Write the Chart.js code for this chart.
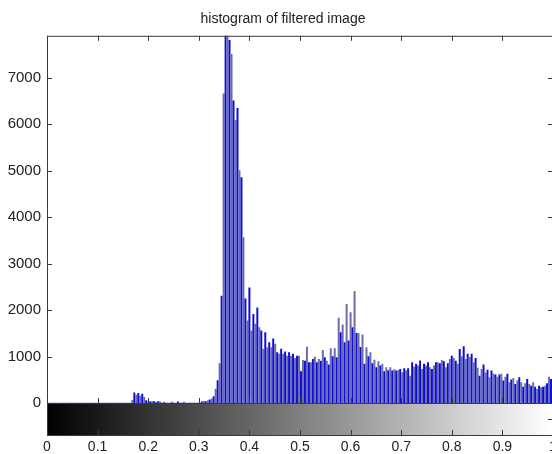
<!DOCTYPE html>
<html>
<head>
<meta charset="utf-8">
<script src="https://cdn.jsdelivr.net/npm/chart.js@4.4.1/dist/chart.umd.min.js"></script>
<style>
  html, body { margin: 0; padding: 0; background: #fff; overflow: hidden; }
  canvas { display: block; }
</style>
</head>
<body>
<canvas id="hist" width="566" height="454"></canvas>
<script>
// 256-bin histogram (imhist), counts per bin, bin k sits at k/255
let counts = [
  0,0,0,0,0,0,0,0,0,0, 0,0,0,0,0,0,0,0,0,0,
  0,0,0,0,0,0,0,0,0,0, 0,0,0,0,0,0,0,0,0,0,
  0,0,0,60,220,170,210,150,190,120, 50,30,25,35,30,20,30,25,0,20,
  0,0,0,20,0,0,25,0,0,20, 0,0,0,0,0,0,0,0,25,35,
  30,45,70,90,140,300,480,850,2300,6650, 8200,8000,7800,7500,6500,6080,6340,5000,4850,3560,
  2240,1770,2480,1550,1910,1700,2050,1620,1550,1160, 1515,1190,1300,1190,1380,1270,1085,1055,1160,1055,
  1100,1010,1085,1010,1050,960,1010,1010,675,920, 900,1205,870,870,940,990,870,940,900,1135,
  975,900,820,1170,1000,1170,975,1825,1515,1680, 1300,2125,1335,1945,1620,2400,1500,1500,1200,1465,
  835,1190,1000,1085,850,925,760,890,800,835, 675,760,700,760,690,720,690,700,725,655,
  740,700,740,580,870,780,835,800,905,725, 835,800,870,760,725,800,870,870,850,920,
  890,760,850,940,1010,960,900,835,1155,1000, 1215,940,1050,980,1050,870,960,750,580,725,
  820,650,710,545,690,620,605,560,605,620, 475,560,620,440,500,530,400,480,545,440,
  345,420,510,400,365,440,340,295,365,330, 345,365,420,560,510,450
]
let xTicks = [0, 0.1, 0.2, 0.3, 0.4, 0.5, 0.6, 0.7, 0.8, 0.9, 1]
let yTicks = [0, 1000, 2000, 3000, 4000, 5000, 6000, 7000]
let yMax = 7900

let points = counts.map((c, k) => ({ x: k / (counts.length - 1), y: c }))
let barColors = counts.map((c, k) => k % 2 ? '#6b6ba8' : '#0c0cdc')

let axisColor = '#3a3a3a'
let tickFont = { family: 'Liberation Sans, Arial, sans-serif', size: 14 }

// matlab style box, inward ticks and the gray colorbar under the axes
let matlabAxes = {
  id: 'matlabAxes',
  afterDraw(chart) {
    let c = chart.ctx
    let a = chart.chartArea
    let xs = chart.scales.x
    let ys = chart.scales.y
    let barTop = a.bottom
    let barBottom = a.bottom + 32
    c.save()

    let grad = c.createLinearGradient(xs.getPixelForValue(0), 0, xs.getPixelForValue(1), 0)
    grad.addColorStop(0, '#000000')
    grad.addColorStop(1, '#ffffff')
    c.fillStyle = grad
    c.fillRect(a.left, barTop, a.right - a.left, barBottom - barTop)

    c.strokeStyle = axisColor
    c.lineWidth = 1
    c.strokeRect(a.left + 0.5, a.top + 0.5, a.right - a.left, a.bottom - a.top)
    c.strokeRect(a.left + 0.5, barTop + 0.5, a.right - a.left, barBottom - barTop)

    c.beginPath()
    yTicks.forEach(v => {
      let y = Math.round(ys.getPixelForValue(v)) + 0.5
      c.moveTo(a.left, y); c.lineTo(a.left + 5, y)
      c.moveTo(a.right - 5, y); c.lineTo(a.right, y)
    })
    xTicks.forEach(v => {
      let x = Math.round(xs.getPixelForValue(v)) + 0.5
      c.moveTo(x, a.top); c.lineTo(x, a.top + 5)
      c.moveTo(x, a.bottom); c.lineTo(x, a.bottom - 5)
      c.moveTo(x, barBottom); c.lineTo(x, barBottom - 5)
    })
    let midBar = Math.round((barTop + barBottom) / 2) + 0.5
    c.moveTo(a.right - 5, midBar); c.lineTo(a.right, midBar)
    c.stroke()
    c.restore()
  }
}

new Chart(document.getElementById('hist'), {
  type: 'bar',
  data: {
    datasets: [{
      data: points,
      backgroundColor: barColors,
      borderWidth: 0,
      barThickness: 1.3
    }]
  },
  options: {
    responsive: false,
    animation: false,
    layout: { padding: 0 },
    plugins: {
      legend: { display: false },
      tooltip: { enabled: false },
      title: {
        display: true,
        text: 'histogram of filtered image',
        color: '#222',
        font: { family: 'Liberation Sans, Arial, sans-serif', size: 14, weight: 'normal' },
        padding: { top: 11, bottom: 8 }
      }
    },
    scales: {
      x: {
        type: 'linear',
        min: 0,
        max: 1,
        offset: false,
        // invisible tick marks push the labels below the colorbar
        grid: { display: true, drawOnChartArea: false, drawTicks: true, tickLength: 36, color: 'rgba(0,0,0,0)' },
        border: { display: false },
        afterBuildTicks(s) { s.ticks = xTicks.map(v => ({ value: v })) },
        afterFit(s) { s.height = 51 },
        ticks: {
          padding: 0,
          color: '#222',
          font: tickFont,
          maxRotation: 0,
          autoSkip: false,
          callback: v => String(Math.round(v * 10) / 10)
        }
      },
      y: {
        min: 0,
        max: yMax,
        grid: { display: false, drawTicks: false },
        border: { display: false },
        afterBuildTicks(s) { s.ticks = yTicks.map(v => ({ value: v })) },
        afterFit(s) { s.width = 47 },
        ticks: {
          padding: 6,
          color: '#222',
          font: { family: 'Liberation Sans, Arial, sans-serif', size: 15 },
          callback: v => String(v)
        }
      },
      // empty strip on the right so the axes run past the window edge
      yRight: {
        position: 'right',
        grid: { display: false, drawTicks: false },
        border: { display: false },
        ticks: { display: false },
        afterFit(s) { s.width = 13 }
      }
    }
  },
  plugins: [matlabAxes]
})
</script>
</body>
</html>
